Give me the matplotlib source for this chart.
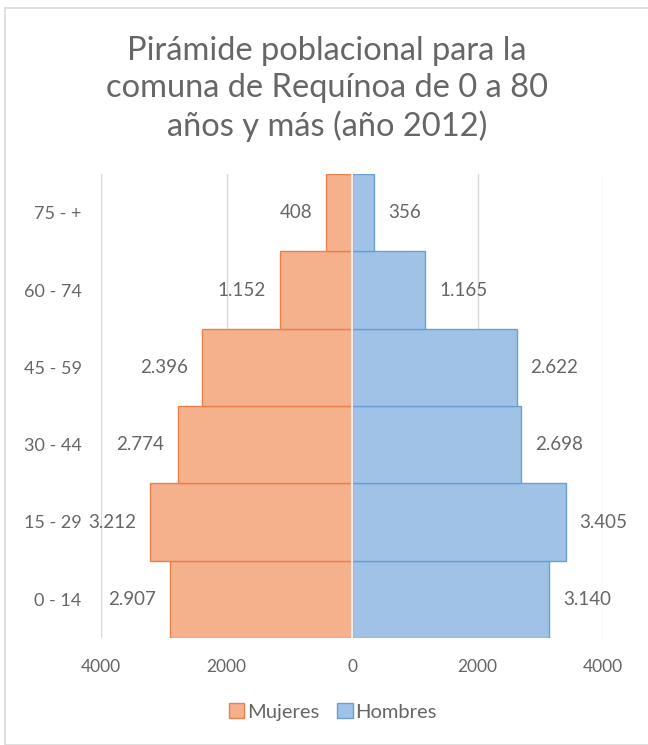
import numpy as np
import matplotlib.pyplot as plt
from matplotlib.patches import Rectangle

grupos = ['0 - 14', '15 - 29', '30 - 44', '45 - 59', '60 - 74', '75 - +']
mujeres = [2907, 3212, 2774, 2396, 1152, 408]
hombres = [3140, 3405, 2698, 2622, 1165, 356]
ticks = [-4000, -2000, 0, 2000, 4000]
tick_labels = ['4000', '2000', '0', '2000', '4000']


def miles(v):
    # formato chileno: punto como separador de miles
    return f'{v:,}'.replace(',', '.')


plt.rcParams['font.family'] = ['Lato', 'DejaVu Sans']
gris = '#666666'

fig = plt.figure(figsize=(6.48, 7.45), dpi=100)
fig.patches.append(Rectangle((5 / 648, 0), 1, 1 - 8 / 745, transform=fig.transFigure,
                             fill=False, edgecolor='#d9d9d9', lw=1.2))

ax = fig.add_axes([101 / 648, 1 - 638 / 745, 502 / 648, 464 / 745])
y = np.arange(len(grupos))

ax.barh(y, [-m for m in mujeres], height=1.0, color='#F5B08C', edgecolor='#E8824A',
        lw=1.0, label='Mujeres', zorder=2)
ax.barh(y, hombres, height=1.0, color='#A0C2E7', edgecolor='#6A9FD6',
        lw=1.0, label='Hombres', zorder=2)
ax.axvline(0, color='#f2ece8', lw=1.5, zorder=3)

for i in range(len(grupos)):
    ax.annotate(miles(mujeres[i]), (-mujeres[i], i), xytext=(-10, 0), textcoords='offset points',
                ha='right', va='center', fontsize=13.5, color=gris)
    ax.annotate(miles(hombres[i]), (hombres[i], i), xytext=(10, 0), textcoords='offset points',
                ha='left', va='center', fontsize=13.5, color=gris)

ax.set_xlim(-4000, 4000)
ax.set_ylim(-0.5, len(grupos) - 0.5)
ax.set_xticks(ticks)
ax.set_xticklabels(tick_labels)
ax.set_yticks(y)
ax.set_yticklabels(grupos)
ax.tick_params(axis='both', length=0, labelcolor=gris)
ax.tick_params(axis='x', pad=15, labelsize=12.5)
ax.tick_params(axis='y', pad=14, labelsize=13)
for x in [-4000, -2000, 2000, 4000]:
    ax.axvline(x, color='#d9d9d9', lw=1, zorder=1)
for s in ax.spines.values():
    s.set_visible(False)

fig.text(0.505, 1 - 89 / 745,
         'Pirámide poblacional para la\ncomuna de Requínoa de 0 a 80\naños y más (año 2012)',
         ha='center', va='center', fontsize=23.5, color=gris, linespacing=1.3)

fig.legend(loc='center', bbox_to_anchor=(333 / 648, 1 - 712 / 745), ncol=2, frameon=False,
           fontsize=14.5, labelcolor=gris, handlelength=0.75, handleheight=0.75,
           handletextpad=0.15, columnspacing=0.9)

fig.savefig('out.png', dpi=100)
